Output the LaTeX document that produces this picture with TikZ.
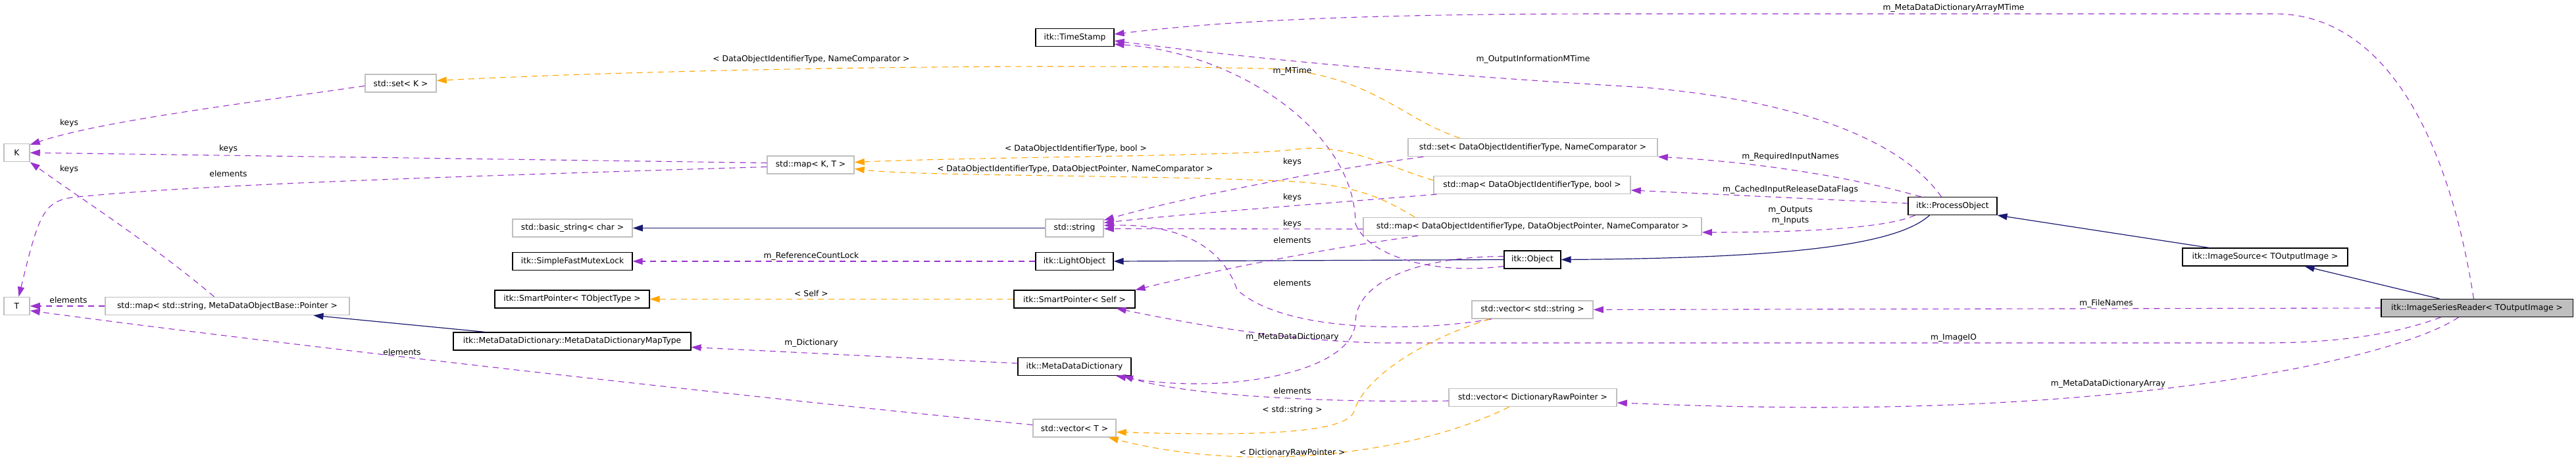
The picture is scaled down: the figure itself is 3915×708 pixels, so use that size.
\documentclass[tikz,border=0pt]{standalone}
\usepackage{fontspec}
\setmainfont{DejaVu Sans}
\usetikzlibrary{arrows.meta,calc}
\definecolor{purp}{HTML}{9A32CD}
\definecolor{navyc}{HTML}{191970}
\definecolor{orng}{HTML}{FFA500}
\definecolor{gbord}{HTML}{BFBFBF}
\definecolor{gfill}{HTML}{BFBFBF}
\tikzset{
  box/.style={draw, minimum height=27pt, inner sep=0pt, line width=1.1pt, fill=white},
  docbox/.style={box, draw=black},
  extbox/.style={box, draw=gbord, line width=1.5pt},
  tip/.style={-{Triangle[length=15pt,width=10pt]}},
  mem/.style={purp, line width=1.1pt, dash pattern=on 9pt off 7pt, tip},
  tpl/.style={orng, line width=1.1pt, dash pattern=on 9pt off 7pt, tip},
  inh/.style={navyc, line width=1.2pt, tip},
  lbl/.style={inner sep=0pt, text height=9pt, text depth=3pt}
}
\begin{document}
\begin{tikzpicture}[x=1pt,y=-1pt,font=\fontsize{12.3}{15}\selectfont]
\fill[white] (0,0) rectangle (3915,708);
\path[use as bounding box] (0,0) rectangle (3915,708);

% ---------- nodes ----------
\node[extbox, minimum width=39pt] (K) at (25.5,232) {K};
\node[extbox, minimum width=39pt] (T) at (25.5,465) {T};
\node[extbox, minimum width=108pt] (setK) at (609,126.5) {std::set< K >};
\node[extbox, minimum width=132pt] (mapKT) at (1232,250.5) {std::map< K, T >};
\node[extbox, minimum width=371pt] (mapSP) at (345.5,465) {std::map< std::string, MetaDataObjectBase::Pointer >};
\node[docbox, minimum width=361pt] (mdmt) at (869.5,518.5) {itk::MetaDataDictionary::MetaDataDictionaryMapType};
\node[extbox, minimum width=182pt] (basic) at (870,346.5) {std::basic\_string< char >};
\node[docbox, minimum width=182pt] (mutex) at (870,397) {itk::SimpleFastMutexLock};
\node[docbox, minimum width=235pt] (sptr) at (869.5,454.5) {itk::SmartPointer< TObjectType >};
\node[docbox, minimum width=119pt] (ts) at (1633.5,57) {itk::TimeStamp};
\node[extbox, minimum width=88pt] (str) at (1633,346.5) {std::string};
\node[docbox, minimum width=118pt] (light) at (1633,397) {itk::LightObject};
\node[docbox, minimum width=184pt] (sps) at (1633,454.5) {itk::SmartPointer< Self >};
\node[docbox, minimum width=172pt] (mdd) at (1633,557) {itk::MetaDataDictionary};
\node[extbox, minimum width=126pt] (vecT) at (1633,650.5) {std::vector< T >};
\node[extbox, minimum width=379pt] (setDO) at (2329.5,224) {std::set< DataObjectIdentifierType, NameComparator >};
\node[extbox, minimum width=299pt] (mapDOb) at (2328.5,281) {std::map< DataObjectIdentifierType, bool >};
\node[extbox, minimum width=514pt] (mapDOP) at (2329,344) {std::map< DataObjectIdentifierType, DataObjectPointer, NameComparator >};
\node[docbox, minimum width=86pt] (obj) at (2329,394.5) {itk::Object};
\node[extbox, minimum width=184pt] (vecS) at (2329,470.5) {std::vector< std::string >};
\node[extbox, minimum width=255pt] (vecD) at (2329.5,604) {std::vector< DictionaryRawPointer >};
\node[docbox, minimum width=135pt] (po) at (2967.5,313) {itk::ProcessObject};
\node[docbox, minimum width=251pt] (isrc) at (3442.5,390.5) {itk::ImageSource< TOutputImage >};
\node[docbox, minimum width=291pt, fill=gfill] (isr) at (3764.5,468) {itk::ImageSeriesReader< TOutputImage >};

% ---------- connectors ----------
% left cluster
\draw[mem] ($(setK.west)+(0,4)$) .. controls (350,160) and (150,185) .. ($(K.north east)+(0,2)$);
\draw[mem] ($(mapKT.west)+(0,-3)$) -- (K.east);
\draw[mem] ($(mapKT.west)+(0,3)$) .. controls (700,268) and (300,280) .. (110,300) .. controls (65,306) and (58,330) .. ($(T.north)+(3,0)$);
\draw[mem] ($(mapSP.north)+(-20,0)$) .. controls (230,370) and (120,300) .. (K.south east);
\draw[mem] (mapSP.west) -- (T.east);
\draw[mem] ($(vecT.west)+(0,-5)$) .. controls (1100,600) and (400,520) .. ($(T.east)+(0,7)$);
\draw[inh] ($(mdmt.north)+(-132,0)$) -- ($(mapSP.south)+(131,0)$);

% middle column
\draw[inh] (str.west) -- (basic.east);
\draw[mem] (light.west) -- (mutex.east);
\draw[tpl] (sps.west) -- (sptr.east);
\draw[mem] ($(mdd.west)+(0,-5)$) -- ($(mdmt.east)+(0,9)$);
\draw[inh] (obj.west) -- (light.east);

% inheritance right
\draw[inh] ($(po.south)+(-35,0)$) .. controls (2880,375) and (2700,392) .. (obj.east);
\draw[inh] ($(isrc.north)+(-85,0)$) -- (po.south east);
\draw[inh] ($(isr.north)+(-57,0)$) -- ($(isrc.south)+(60,0)$);

% to TimeStamp
\draw[mem] ($(isr.north)+(-5,0)$) .. controls (3720,200) and (3620,21) .. (3457,21) -- (2450,21) .. controls (2050,21) and (1850,33) .. ($(ts.east)+(0,-5)$);
\draw[mem] ($(po.north)+(-17,0)$) .. controls (2880,200) and (2700,150) .. (2500,133) .. controls (2200,115) and (1950,95) .. ($(ts.east)+(0,5)$);
\draw[mem] ($(obj.west)+(0,10)$) .. controls (2180,418) and (2080,390) .. (2060,340) .. controls (2060,200) and (1880,80) .. ($(ts.south east)+(0,-4)$);

% ProcessObject members
\draw[mem] ($(po.north)+(-48,0)$) .. controls (2800,265) and (2650,245) .. (setDO.south east);
\draw[mem] ($(po.west)+(0,-4)$) -- ($(mapDOb.east)+(0,8)$);
\draw[mem] ($(po.south)+(-57,0)$) .. controls (2860,350) and (2700,353) .. ($(mapDOP.east)+(0,9)$);

% ImageSeriesReader members
\draw[mem] (isr.west) -- (vecS.east);
\draw[mem] ($(isr.south)+(-55,0)$) .. controls (3620,515) and (3520,521) .. (3440,521) -- (2100,521) .. controls (1950,518) and (1800,490) .. ($(sps.south east)+(-29,0)$);
\draw[mem] ($(isr.south)+(-28,0)$) .. controls (3650,540) and (3300,620) .. (2750,619) .. controls (2600,618) and (2520,614) .. ($(vecD.east)+(0,8)$);

% Object -> MetaDataDictionary
\draw[mem] ($(obj.west)+(0,-5)$) .. controls (2150,390) and (2060,430) .. (2060,490) .. controls (2055,570) and (1850,600) .. ($(mdd.south)+(63,0)$);

% keys / elements to std::string
\draw[mem] ($(setDO.south west)+(24,0)$) .. controls (2000,260) and (1800,300) .. ($(str.east)+(0,-12)$);
\draw[mem] ($(mapDOb.south west)+(5,0)$) .. controls (2000,310) and (1800,325) .. ($(str.east)+(0,-8)$);
\draw[mem] ($(vecS.south)+(-62,0)$) .. controls (2150,505) and (1950,505) .. (1880,440) .. controls (1860,380) and (1800,340) .. ($(str.east)+(0,-4)$);
\draw[mem] ($(mapDOP.west)+(0,4)$) -- ($(str.east)+(0,1)$);
\draw[mem] ($(mapDOP.south)+(-174,0)$) .. controls (2000,380) and (1850,410) .. (sps.north east);

% template instantiations
\draw[tpl] ($(setDO.north)+(-111,0)$) .. controls (2130,180) and (2090,120) .. (1950,105) .. controls (1600,95) and (1000,105) .. ($(setK.east)+(0,-4)$);
\draw[tpl] ($(mapDOb.west)+(0,-7)$) .. controls (2100,250) and (2040,215) .. (1960,228) .. controls (1850,238) and (1500,238) .. ($(mapKT.east)+(0,-4)$);
\draw[tpl] ($(mapDOP.north)+(-179,0)$) .. controls (2100,300) and (2060,280) .. (1950,275) .. controls (1700,265) and (1400,268) .. ($(mapKT.east)+(0,6)$);
\draw[tpl] ($(vecS.south)+(-65,0)$) .. controls (2150,520) and (2070,580) .. (2058,625) .. controls (2045,660) and (1900,662) .. ($(vecT.east)+(0,6)$);
\draw[tpl] ($(vecD.south)+(-36,0)$) .. controls (2150,690) and (1900,720) .. ($(vecT.south east)+(-12,0)$);
\draw[mem] ($(vecD.west)+(0,5)$) .. controls (2000,612) and (1800,600) .. ($(mdd.south)+(74,0)$);

% ---------- labels ----------
\node[lbl] (l1) at (105,188) {keys};
\node[lbl] (l2) at (347,227) {keys};
\node[lbl] (l3) at (105,258) {keys};
\node[lbl] (l4) at (347,266) {elements};
\node[lbl] (l5) at (104,457) {elements};
\node[lbl] (l6) at (611,536) {elements};
\node[lbl] (l7) at (1233,91) {< DataObjectIdentifierType, NameComparator >};
\node[lbl] (l8) at (1635,227) {< DataObjectIdentifierType, bool >};
\node[lbl] (l9) at (1634,258) {< DataObjectIdentifierType, DataObjectPointer, NameComparator >};
\node[lbl] (l10) at (1233,389) {m\_ReferenceCountLock};
\node[lbl] (l11) at (1233,447) {< Self >};
\node[lbl] (l12) at (1233,521) {m\_Dictionary};
\node[lbl] (l13) at (1964,109) {m\_MTime};
\node[lbl] (l14) at (2330,91) {m\_OutputInformationMTime};
\node[lbl] (l15) at (1964,247) {keys};
\node[lbl] (l16) at (1964,301) {keys};
\node[lbl] (l17) at (1964,341) {keys};
\node[lbl] (l18) at (1964,367) {elements};
\node[lbl] (l19) at (1964,431) {elements};
\node[lbl] (l20) at (1964,512) {m\_MetaDataDictionary};
\node[lbl] (l21) at (1964,595) {elements};
\node[lbl] (l22) at (1964,623) {< std::string >};
\node[lbl] (l23) at (1964,688) {< DictionaryRawPointer >};
\node[lbl] (l24) at (2969,13) {m\_MetaDataDictionaryArrayMTime};
\node[lbl] (l25) at (2721,239) {m\_RequiredInputNames};
\node[lbl] (l26) at (2721,289) {m\_CachedInputReleaseDataFlags};
\node[inner sep=0pt, align=center, font=\fontsize{12.3}{16}\selectfont] (l27) at (2721,327) {m\_Outputs\\m\_Inputs};
\node[lbl] (l28) at (3201,461) {m\_FileNames};
\node[lbl] (l29) at (2969,513) {m\_ImageIO};
\node[lbl] (l30) at (3204,583) {m\_MetaDataDictionaryArray};
\end{tikzpicture}
\end{document}
